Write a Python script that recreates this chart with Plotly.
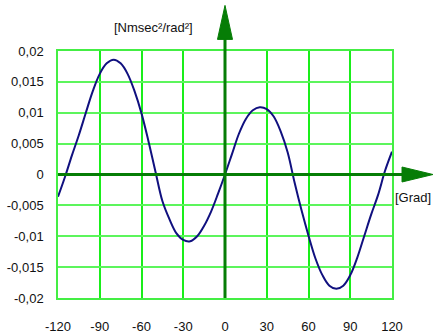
import plotly.graph_objects as go

# Angle [Grad]
angle = [-120, -115, -110, -105, -100, -95, -90, -85, -80, -75, -70, -65, -60,
         -55, -50, -45, -40, -35, -30, -25, -20, -15, -10, -5, 0,
         5, 10, 15, 20, 25, 30, 35, 40, 45, 50, 55, 60,
         65, 70, 75, 80, 85, 90, 95, 100, 105, 110, 115, 120]
# Value [Nmsec²/rad²]
value = [-0.0036, -0.0004, 0.0031, 0.0064, 0.0100, 0.0135, 0.0163, 0.0180, 0.0186,
         0.0180, 0.0163, 0.0135, 0.0099, 0.0054, 0.0005, -0.0043, -0.0072, -0.0095,
         -0.0106, -0.0108, -0.0100, -0.0083, -0.0060, -0.0031, 0.0,
         0.0033, 0.0066, 0.0090, 0.0104, 0.0109, 0.0106, 0.0094, 0.0070, 0.0036,
         -0.0013, -0.0058, -0.0099, -0.0136, -0.0163, -0.0180, -0.0185, -0.0180,
         -0.0163, -0.0135, -0.0100, -0.0065, -0.0033, 0.0006, 0.0037]

x_ticks = [-120, -90, -60, -30, 0, 30, 60, 90, 120]
x_ticktext = ["-120", "-90", "-60", "-30", "0", "30", "60", "90", "120"]
y_ticks = [-0.02, -0.015, -0.01, -0.005, 0, 0.005, 0.01, 0.015, 0.02]
y_ticktext = ["-0,02", "-0,015", "-0,01", "-0,005", "0", "0,005", "0,01", "0,015", "0,02"]

FONT = "Liberation Sans, Arial, sans-serif"
AXIS_GREEN = "#067d06"

fig = go.Figure()
fig.add_trace(go.Scatter(x=angle, y=value, mode="lines",
                         line=dict(color="#10107f", width=2, shape="spline", smoothing=1.0),
                         showlegend=False, hoverinfo="skip"))

fig.update_layout(
    width=435, height=336,
    margin=dict(l=58, r=43, t=51, b=38, autoexpand=False),
    paper_bgcolor="white", plot_bgcolor="white",
    font=dict(family=FONT, size=13, color="#111111"),
    xaxis=dict(range=[-120, 120], tickvals=x_ticks, ticktext=x_ticktext,
               showgrid=True, gridcolor="#1aee1a", gridwidth=1.5,
               zeroline=False, showline=True, mirror=True, automargin=False,
               linecolor="#44ee44", linewidth=1.5, ticks="",
               ticklabelstandoff=16),
    yaxis=dict(range=[-0.02, 0.02], tickvals=y_ticks, ticktext=y_ticktext,
               showgrid=True, gridcolor="#5cf55c", gridwidth=2,
               zeroline=False, showline=True, mirror=True, automargin=False,
               linecolor="#44ee44", linewidth=1.5, ticks="",
               ticklabelstandoff=10),
)

# green arrow axes
fig.add_shape(type="line", xref="x", yref="paper", x0=0, x1=0, y0=0, y1=1.06,
              line=dict(color=AXIS_GREEN, width=3), layer="above")
fig.add_shape(type="line", xref="paper", yref="y", x0=0, x1=1.04, y0=0, y1=0,
              line=dict(color=AXIS_GREEN, width=3), layer="above")
# arrowheads (paper coordinates)
fig.add_shape(type="path", xref="paper", yref="paper",
              path="M 0.4775 1.047 L 0.5 1.1846 L 0.5225 1.047 Z",
              fillcolor=AXIS_GREEN, line=dict(color=AXIS_GREEN, width=1), layer="above")
fig.add_shape(type="path", xref="paper", yref="paper",
              path="M 1.03 0.4697 L 1.1228 0.5 L 1.03 0.5303 Z",
              fillcolor=AXIS_GREEN, line=dict(color=AXIS_GREEN, width=1), layer="above")

fig.add_annotation(text="[Nmsec²/rad²]", xref="paper", yref="paper",
                   x=0.41, y=1.0957, xanchor="right", yanchor="middle",
                   showarrow=False, font=dict(family=FONT, size=13, color="#111111"))
fig.add_annotation(text="[Grad]", xref="paper", yref="paper",
                   x=1.1228, y=0.405, xanchor="right", yanchor="middle",
                   showarrow=False, font=dict(family=FONT, size=13, color="#111111"))

fig.write_html("out.html", config={"displayModeBar": False},
               post_script="document.body.style.margin='0';document.body.style.padding='0';")
